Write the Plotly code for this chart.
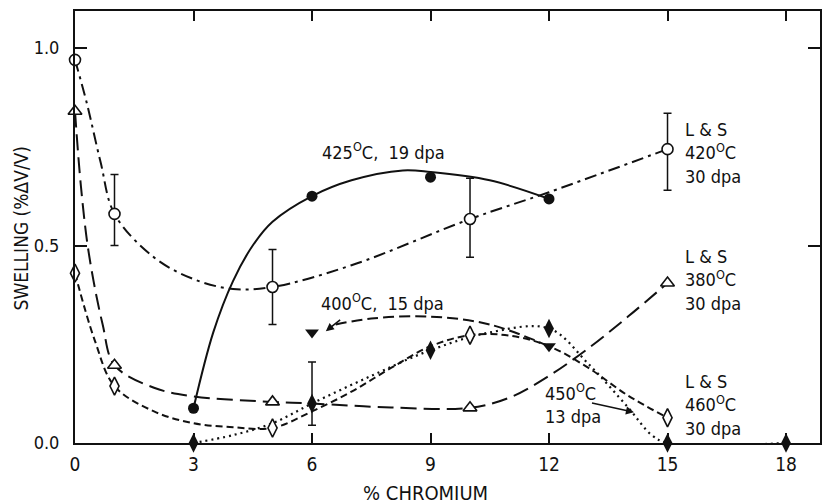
import plotly.graph_objects as go

# ---- data ----
# L & S 420C 30 dpa (open circles, dash-dot)
ls420_x = [0, 1, 5, 10, 15]
ls420_y = [0.97, 0.58, 0.395, 0.567, 0.744]
ls420_hi = [None, 0.68, 0.49, 0.67, 0.835]
ls420_lo = [None, 0.50, 0.30, 0.47, 0.64]
ls420_cx = [0, 0.3, 0.65, 1, 2, 3, 4, 5, 7, 10, 12, 15]
ls420_cy = [0.97, 0.86, 0.71, 0.58, 0.47, 0.415, 0.39, 0.395, 0.45, 0.567, 0.635, 0.744]

# 425C 19 dpa (filled circles, solid)
t425_x = [3, 6, 9, 12]
t425_y = [0.088, 0.625, 0.673, 0.618]
t425_cx = [3, 3.5, 4, 4.5, 5, 6, 7, 8.3, 9, 10.5, 12]
t425_cy = [0.088, 0.28, 0.41, 0.50, 0.56, 0.625, 0.665, 0.69, 0.686, 0.665, 0.618]

# L & S 380C 30 dpa (open triangles, long dash)
ls380_x = [0, 1, 5, 10, 15]
ls380_y = [0.84, 0.197, 0.104, 0.089, 0.405]
ls380_cx = [0, 0.15, 0.35, 0.7, 1, 2, 3, 5, 6, 8, 10, 11, 12, 13, 14, 15]
ls380_cy = [0.84, 0.65, 0.48, 0.30, 0.197, 0.14, 0.118, 0.104, 0.10, 0.09, 0.089, 0.115, 0.17, 0.24, 0.32, 0.405]

# L & S 460C 30 dpa (open diamonds, short dash)
ls460_x = [0, 1, 5, 10, 15]
ls460_y = [0.43, 0.144, 0.038, 0.273, 0.064]
ls460_cx = [0, 0.5, 1, 2, 3, 4, 5, 6, 7, 8, 9, 10, 11, 12, 13, 14, 15]
ls460_cy = [0.43, 0.26, 0.144, 0.08, 0.05, 0.04, 0.038, 0.08, 0.13, 0.19, 0.245, 0.273, 0.272, 0.245, 0.19, 0.12, 0.064]

# 450C 13 dpa (filled diamonds, dotted)
t450_x = [3, 6, 9, 12, 15, 18]
t450_y = [0.0, 0.10, 0.235, 0.29, 0.0, 0.0]
t450_hi = [None, 0.205, None, None, None, None]
t450_lo = [None, 0.045, None, None, None, None]
t450_cx = [3, 4, 5, 6, 7.5, 9, 10.5, 12, 13, 14, 14.6, 15, 18]
t450_cy = [0.0, 0.02, 0.05, 0.10, 0.17, 0.235, 0.28, 0.29, 0.2, 0.09, 0.02, 0.0, 0.0]

# 400C 15 dpa (filled down-triangles, dashed)
t400_x = [6, 12]
t400_y = [0.28, 0.245]
t400_cx = [6.6, 7.5, 9, 10.5, 12]
t400_cy = [0.30, 0.315, 0.32, 0.30, 0.245]

x_ticks = [0, 3, 6, 9, 12, 15, 18]
y_ticks = [0.0, 0.5, 1.0]
y_tick_text = ["0.0", "0.5", "1.0"]

FONT = "DejaVu Sans Condensed, sans-serif"
BLACK = "#111111"


def err(y, hi, lo):
    plus = [None if h is None else h - v for v, h in zip(y, hi)]
    minus = [None if l is None else v - l for v, l in zip(y, lo)]
    return plus, minus


fig = go.Figure()


def curve(cx, cy, dash, width=2.0):
    fig.add_trace(go.Scatter(x=cx, y=cy, mode="lines", line_shape="spline",
                             line=dict(color=BLACK, width=width, dash=dash),
                             hoverinfo="skip", showlegend=False, cliponaxis=False))


curve(ls420_cx, ls420_cy, "12px,5px,3px,5px")
curve(t425_cx, t425_cy, "solid")
curve(ls380_cx, ls380_cy, "16px,7px")
curve(ls460_cx, ls460_cy, "7px,4px")
curve(t450_cx, t450_cy, "2px,4px", 2.2)
curve(t400_cx, t400_cy, "11px,5px")

# markers
p, m = err(ls420_y, ls420_hi, ls420_lo)
fig.add_trace(go.Scatter(x=ls420_x, y=ls420_y, mode="markers", cliponaxis=False, showlegend=False,
                         marker=dict(symbol="circle", size=11, color="white", line=dict(color=BLACK, width=1.6)),
                         error_y=dict(type="data", array=p, arrayminus=m, color=BLACK, thickness=1.5, width=4)))
fig.add_trace(go.Scatter(x=t425_x, y=t425_y, mode="markers", cliponaxis=False, showlegend=False,
                         marker=dict(symbol="circle", size=11, color=BLACK)))
fig.add_trace(go.Scatter(x=ls380_x, y=ls380_y, mode="markers", cliponaxis=False, showlegend=False,
                         marker=dict(symbol="triangle-up", size=12, color="white", line=dict(color=BLACK, width=1.6))))
fig.add_trace(go.Scatter(x=ls460_x, y=ls460_y, mode="markers", cliponaxis=False, showlegend=False,
                         marker=dict(symbol="diamond-tall", size=13, color="white", line=dict(color=BLACK, width=1.6))))
p, m = err(t450_y, t450_hi, t450_lo)
fig.add_trace(go.Scatter(x=t450_x, y=t450_y, mode="markers", cliponaxis=False, showlegend=False,
                         marker=dict(symbol="diamond-tall", size=14, color=BLACK),
                         error_y=dict(type="data", array=p, arrayminus=m, color=BLACK, thickness=1.5, width=4)))
fig.add_trace(go.Scatter(x=t400_x, y=t400_y, mode="markers", cliponaxis=False, showlegend=False,
                         marker=dict(symbol="triangle-down", size=12, color=BLACK)))

afont = dict(family=FONT, size=18, color=BLACK)
ann = [
    dict(x=7.8, y=0.74, text="425<sup>O</sup>C,  19 dpa", showarrow=False, xanchor="center", yanchor="middle"),
    dict(x=7.78, y=0.356, text="400<sup>O</sup>C,  15 dpa", showarrow=False, xanchor="center", yanchor="middle"),
    dict(x=11.85, y=0.10, text="450<sup>O</sup>C<br>13 dpa", showarrow=False, xanchor="left", yanchor="middle", align="left"),
    dict(x=15.38, y=0.734, text="L &amp; S<br>420<sup>O</sup>C<br>30 dpa", showarrow=False, xanchor="left", yanchor="middle", align="left"),
    dict(x=15.38, y=0.413, text="L &amp; S<br>380<sup>O</sup>C<br>30 dpa", showarrow=False, xanchor="left", yanchor="middle", align="left"),
    dict(x=15.38, y=0.096, text="L &amp; S<br>460<sup>O</sup>C<br>30 dpa", showarrow=False, xanchor="left", yanchor="middle", align="left"),
    dict(x=6.35, y=0.283, ax=6.75, ay=0.315, axref="x", ayref="y", text="", showarrow=True,
         arrowhead=2, arrowsize=1, arrowwidth=1.6, arrowcolor=BLACK),
    dict(x=14.15, y=0.078, ax=13.05, ay=0.102, axref="x", ayref="y", text="", showarrow=True,
         arrowhead=2, arrowsize=1, arrowwidth=1.6, arrowcolor=BLACK),
    dict(x=-0.073, y=0.498, xref="paper", yref="paper", text="SWELLING (%\u0394V/V)", textangle=-90,
         showarrow=False, xanchor="center", yanchor="middle", font=dict(family=FONT, size=19, color=BLACK)),
    dict(x=8.87, y=-0.115, yref="paper", text="% CHROMIUM", showarrow=False, xanchor="center", yanchor="middle",
         font=dict(family=FONT, size=20, color=BLACK)),
]
for a in ann:
    a.setdefault("font", afont)
fig.update_layout(annotations=ann)

fig.update_layout(
    width=822, height=504,
    margin=dict(l=75, r=0, t=11, b=61),
    paper_bgcolor="white", plot_bgcolor="white",
    font=dict(family=FONT, color=BLACK),
    showlegend=False,
)
fig.update_xaxes(range=[0, 18.86], tickvals=x_ticks, ticks="inside", ticklen=10, tickwidth=1.5, tickcolor=BLACK,
                 showline=True, linecolor=BLACK, linewidth=2, mirror="ticks", showgrid=False, zeroline=False,
                 tickfont=dict(family=FONT, size=19, color=BLACK), ticklabelstandoff=3)
fig.update_yaxes(range=[0, 1.0937], tickvals=y_ticks, ticktext=y_tick_text, ticks="inside", ticklen=12,
                 tickwidth=1.5, tickcolor=BLACK,
                 showline=True, linecolor=BLACK, linewidth=2, mirror="ticks", showgrid=False, zeroline=False,
                 tickfont=dict(family=FONT, size=18, color=BLACK), ticklabelstandoff=10)

fig.write_html("out.html")
